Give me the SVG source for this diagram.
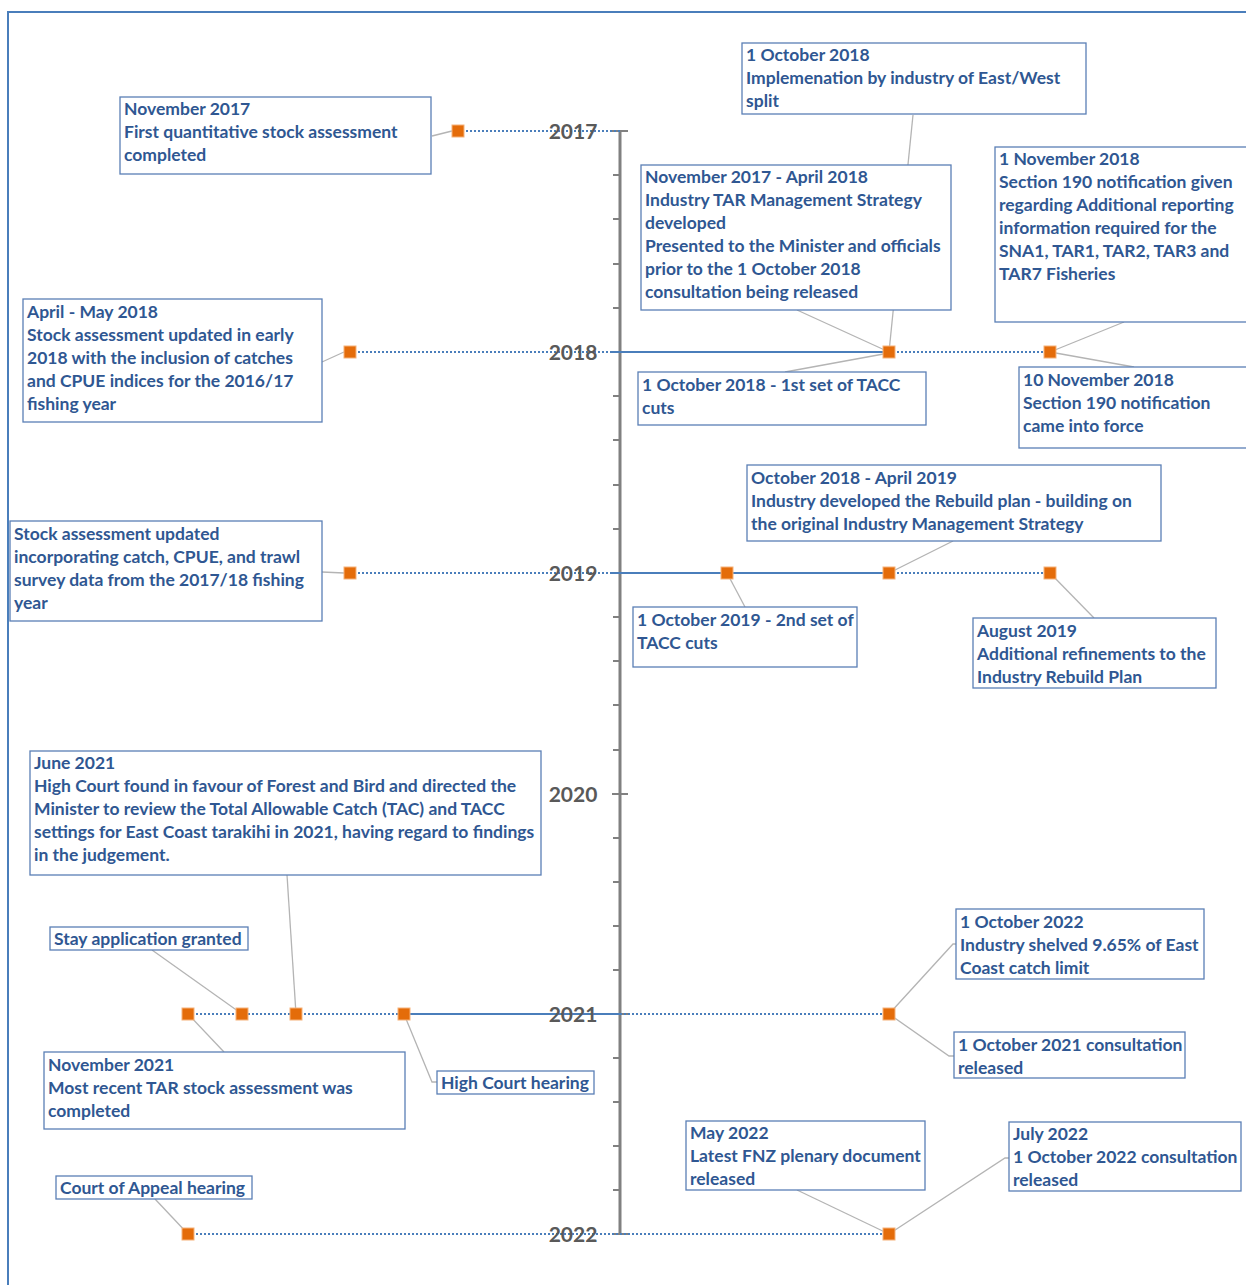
<svg xmlns="http://www.w3.org/2000/svg" width="1246" height="1285" viewBox="0 0 1246 1285">
<style>
.bx{fill:#fff;stroke:#5a7fb5;stroke-width:1.3}
.t{font-family:Lato,"Liberation Sans",sans-serif;font-weight:700;font-size:17.5px;fill:#2f5792}
.yr{font-family:Lato,"Liberation Sans",sans-serif;font-weight:700;font-size:21px;fill:#595959;text-anchor:middle}
.dot{stroke:#4a7ebb;stroke-width:2;stroke-dasharray:2 2;fill:none}
.sol{stroke:#4a7ebb;stroke-width:2;fill:none}
.ln{stroke:#b4b4b4;stroke-width:1.3;fill:none}
.mk{fill:#e46c0a;stroke:#f5b27a;stroke-width:1}
.ax{stroke:#808080;stroke-width:3;fill:none}
.tk{stroke:#808080;stroke-width:2;fill:none}
</style>
<rect width="1246" height="1285" fill="#fff"/>
<g id="frame"><path d="M8 1285 V12 H1246" fill="none" stroke="#4a7ebb" stroke-width="2"/></g>
<g id="axis">
<path class="ax" d="M620 131 V1234"/>
<path class="tk" d="M612 131 H628 M612 352 H628 M612 573 H628 M612 794 H628 M612 1014 H628 M612 1234 H628"/>
<path class="tk" d="M613 175 H620 M613 219 H620 M613 264 H620 M613 308 H620 M613 396 H620 M613 440 H620 M613 485 H620 M613 529 H620 M613 617 H620 M613 661 H620 M613 705 H620 M613 750 H620 M613 838 H620 M613 882 H620 M613 926 H620 M613 970 H620 M613 1058 H620 M613 1102 H620 M613 1146 H620 M613 1190 H620"/>
</g>
<g id="connectors">
<path class="dot" d="M458 131 H620"/>
<path class="dot" d="M350 352 H620 M889 352 H1050"/>
<path class="sol" d="M612 352 H889"/>
<path class="dot" d="M350 573 H620 M889 573 H1050"/>
<path class="sol" d="M612 573 H889"/>
<path class="dot" d="M188 1014 H404 M620 1014 H889"/>
<path class="sol" d="M404 1014 H620"/>
<path class="dot" d="M188 1234 H889"/>
<path class="ln" d="M432 136 L452 131"/>
<path class="ln" d="M913 115 L889 352"/>
<path class="ln" d="M797 310 L889 352"/>
<path class="ln" d="M1124 322 L1050 352"/>
<path class="ln" d="M322 362 L344 352"/>
<path class="ln" d="M785 372 L889 353"/>
<path class="ln" d="M1134 367 L1050 352"/>
<path class="ln" d="M953 541 L889 573"/>
<path class="ln" d="M322 572 L344 573"/>
<path class="ln" d="M745 607 L727 573"/>
<path class="ln" d="M1094 618 L1050 573"/>
<path class="ln" d="M287 875 L296 1014"/>
<path class="ln" d="M152 950 L242 1014"/>
<path class="ln" d="M224 1052 L188 1014"/>
<path class="ln" d="M404 1014 L432 1082 L437 1082"/>
<path class="ln" d="M889 1014 L953 944 L956 944"/>
<path class="ln" d="M889 1014 L949 1056 L954 1056"/>
<path class="ln" d="M797 1190 L889 1234"/>
<path class="ln" d="M889 1234 L1005 1158 L1009 1158"/>
<path class="ln" d="M155 1199 L188 1234"/>
</g>
<g id="markers">
<rect class="mk" x="452" y="125" width="12" height="12"/>
<rect class="mk" x="344" y="346" width="12" height="12"/>
<rect class="mk" x="883" y="346" width="12" height="12"/>
<rect class="mk" x="1044" y="346" width="12" height="12"/>
<rect class="mk" x="344" y="567" width="12" height="12"/>
<rect class="mk" x="721" y="567" width="12" height="12"/>
<rect class="mk" x="883" y="567" width="12" height="12"/>
<rect class="mk" x="1044" y="567" width="12" height="12"/>
<rect class="mk" x="182" y="1008" width="12" height="12"/>
<rect class="mk" x="236" y="1008" width="12" height="12"/>
<rect class="mk" x="290" y="1008" width="12" height="12"/>
<rect class="mk" x="398" y="1008" width="12" height="12"/>
<rect class="mk" x="883" y="1008" width="12" height="12"/>
<rect class="mk" x="182" y="1228" width="12" height="12"/>
<rect class="mk" x="883" y="1228" width="12" height="12"/>
</g>
<g id="years">
<text class="yr" x="573" y="139">2017</text>
<text class="yr" x="573" y="360">2018</text>
<text class="yr" x="573" y="581">2019</text>
<text class="yr" x="573" y="802">2020</text>
<text class="yr" x="573" y="1022">2021</text>
<text class="yr" x="573" y="1242">2022</text>
</g>
<g id="n1"><rect class="bx" x="120" y="97" width="311" height="77"/><text class="t" x="124" y="115"><tspan x="124">November 2017</tspan><tspan x="124" dy="23">First quantitative stock assessment</tspan><tspan x="124" dy="23">completed</tspan></text></g>
<g id="n2"><rect class="bx" x="742" y="43" width="344" height="71"/><text class="t" x="746" y="61"><tspan x="746">1 October 2018</tspan><tspan x="746" dy="23">Implemenation by industry of East/West</tspan><tspan x="746" dy="23">split</tspan></text></g>
<g id="n3"><rect class="bx" x="641" y="165" width="310" height="145"/><text class="t" x="645" y="183"><tspan x="645">November 2017 - April 2018</tspan><tspan x="645" dy="23">Industry TAR Management Strategy</tspan><tspan x="645" dy="23">developed</tspan><tspan x="645" dy="23">Presented to the Minister and officials</tspan><tspan x="645" dy="23">prior to the 1 October 2018</tspan><tspan x="645" dy="23">consultation being released</tspan></text></g>
<g id="n4"><rect class="bx" x="995" y="147" width="260" height="175"/><text class="t" x="999" y="165"><tspan x="999">1 November 2018</tspan><tspan x="999" dy="23">Section 190 notification given</tspan><tspan x="999" dy="23">regarding Additional reporting</tspan><tspan x="999" dy="23">information required for the</tspan><tspan x="999" dy="23">SNA1, TAR1, TAR2, TAR3 and</tspan><tspan x="999" dy="23">TAR7 Fisheries</tspan></text></g>
<g id="n5"><rect class="bx" x="23" y="299" width="299" height="123"/><text class="t" x="27" y="318"><tspan x="27">April - May 2018</tspan><tspan x="27" dy="23">Stock assessment updated in early</tspan><tspan x="27" dy="23">2018 with the inclusion of catches</tspan><tspan x="27" dy="23">and CPUE indices for the 2016/17</tspan><tspan x="27" dy="23">fishing year</tspan></text></g>
<g id="n6"><rect class="bx" x="638" y="372" width="288" height="53"/><text class="t" x="642" y="391"><tspan x="642">1 October 2018 - 1st set of TACC</tspan><tspan x="642" dy="23">cuts</tspan></text></g>
<g id="n7"><rect class="bx" x="1019" y="367" width="236" height="81"/><text class="t" x="1023" y="386"><tspan x="1023">10 November 2018</tspan><tspan x="1023" dy="23">Section 190 notification</tspan><tspan x="1023" dy="23">came into force</tspan></text></g>
<g id="n8"><rect class="bx" x="747" y="465" width="414" height="76"/><text class="t" x="751" y="484"><tspan x="751">October 2018 - April 2019</tspan><tspan x="751" dy="23">Industry developed the Rebuild plan - building on</tspan><tspan x="751" dy="23">the original Industry Management Strategy</tspan></text></g>
<g id="n9"><rect class="bx" x="10" y="521" width="312" height="100"/><text class="t" x="14" y="540"><tspan x="14">Stock assessment updated</tspan><tspan x="14" dy="23">incorporating catch, CPUE, and trawl</tspan><tspan x="14" dy="23">survey data from the 2017/18 fishing</tspan><tspan x="14" dy="23">year</tspan></text></g>
<g id="n10"><rect class="bx" x="633" y="607" width="224" height="60"/><text class="t" x="637" y="626"><tspan x="637">1 October 2019 - 2nd set of</tspan><tspan x="637" dy="23">TACC cuts</tspan></text></g>
<g id="n11"><rect class="bx" x="973" y="618" width="243" height="70"/><text class="t" x="977" y="637"><tspan x="977">August 2019</tspan><tspan x="977" dy="23">Additional refinements to the</tspan><tspan x="977" dy="23">Industry Rebuild Plan</tspan></text></g>
<g id="n12"><rect class="bx" x="30" y="751" width="511" height="124"/><text class="t" x="34" y="769"><tspan x="34">June 2021</tspan><tspan x="34" dy="23">High Court found in favour of Forest and Bird and directed the</tspan><tspan x="34" dy="23">Minister to review the Total Allowable Catch (TAC) and TACC</tspan><tspan x="34" dy="23">settings for East Coast tarakihi in 2021, having regard to findings</tspan><tspan x="34" dy="23">in the judgement.</tspan></text></g>
<g id="n13"><rect class="bx" x="50" y="927" width="198" height="23"/><text class="t" x="54" y="945">Stay application granted</text></g>
<g id="n14"><rect class="bx" x="44" y="1052" width="361" height="77"/><text class="t" x="48" y="1071"><tspan x="48">November 2021</tspan><tspan x="48" dy="23">Most recent TAR stock assessment was</tspan><tspan x="48" dy="23">completed</tspan></text></g>
<g id="n15"><rect class="bx" x="437" y="1071" width="157" height="23"/><text class="t" x="441" y="1089">High Court hearing</text></g>
<g id="n16"><rect class="bx" x="956" y="909" width="248" height="70"/><text class="t" x="960" y="928"><tspan x="960">1 October 2022</tspan><tspan x="960" dy="23">Industry shelved 9.65% of East</tspan><tspan x="960" dy="23">Coast catch limit</tspan></text></g>
<g id="n17"><rect class="bx" x="954" y="1032" width="231" height="46"/><text class="t" x="958" y="1051"><tspan x="958">1 October 2021 consultation</tspan><tspan x="958" dy="23">released</tspan></text></g>
<g id="n18"><rect class="bx" x="686" y="1121" width="239" height="69"/><text class="t" x="690" y="1139"><tspan x="690">May 2022</tspan><tspan x="690" dy="23">Latest FNZ plenary document</tspan><tspan x="690" dy="23">released</tspan></text></g>
<g id="n19"><rect class="bx" x="1009" y="1122" width="232" height="69"/><text class="t" x="1013" y="1140"><tspan x="1013">July 2022</tspan><tspan x="1013" dy="23">1 October 2022 consultation</tspan><tspan x="1013" dy="23">released</tspan></text></g>
<g id="n20"><rect class="bx" x="56" y="1176" width="196" height="23"/><text class="t" x="60" y="1194">Court of Appeal hearing</text></g>
</svg>
